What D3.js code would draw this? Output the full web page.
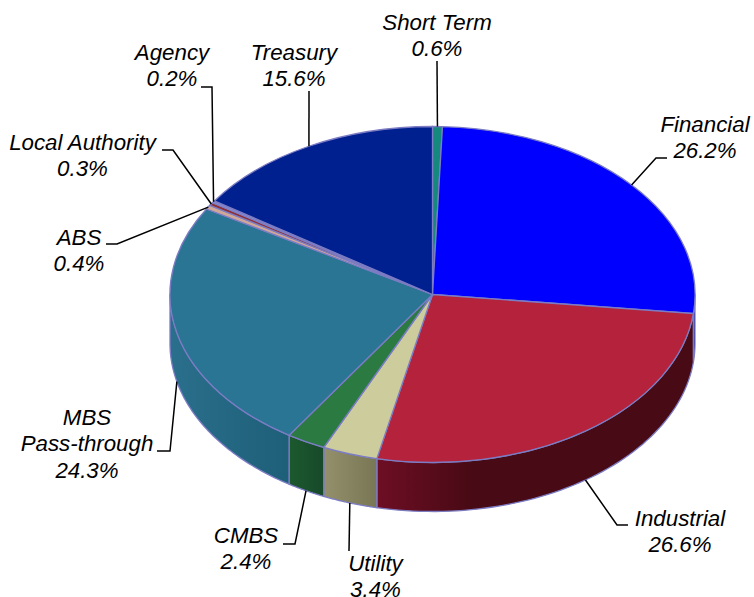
<!DOCTYPE html>
<html lang="en">
<head>
    <meta charset="UTF-8">
    <title>Sector Allocation</title>
    <script src="https://d3js.org/d3.v7.min.js"></script>
    <style>
        html, body { margin: 0; padding: 0; background: #fff; }
        svg { display: block; }
        svg text {
            font-family: "Liberation Sans", Arial, sans-serif;
            font-style: italic;
            font-size: 22.3px;
            fill: #000;
        }
    </style>
</head>
<body>
    <svg id="pie" width="754" height="597"></svg>

    <script>
        const sectors = ["Short Term", "Financial", "Industrial", "Utility", "CMBS", "MBS Pass-through", "ABS", "Local Authority", "Agency", "Treasury"];
        const shares = [0.6, 26.2, 26.6, 3.4, 2.4, 24.3, 0.4, 0.3, 0.2, 15.6];
        const topColors = ["#16897f", "#0000ff", "#b5223c", "#cccc9c", "#2a7a42", "#2a7594", "#d0a898", "#8e3038", "#8a8ad0", "#00208f"];
        const wallLeft = ["#0e5a54", "#00008c", "#6e0e24", "#94906c", "#1c5a2e", "#2a6f8c", "#907060", "#5c2024", "#5c5c90", "#001460"];
        const wallRight = ["#0e5a54", "#00008c", "#480a14", "#787654", "#17492a", "#1e5f78", "#907060", "#5c2024", "#5c5c90", "#001460"];

        // Label layout: text lines, anchor point, then elbow of the leader line
        const labelLines = [["Short Term", "0.6%"], ["Financial", "26.2%"], ["Industrial", "26.6%"], ["Utility", "3.4%"], ["CMBS", "2.4%"], ["MBS", "Pass-through", "24.3%"], ["ABS", "0.4%"], ["Local Authority", "0.3%"], ["Agency", "0.2%"], ["Treasury", "15.6%"]];
        const labelX = [437, 705, 680, 375.5, 246, 87, 79, 82.5, 172, 294];
        const labelY = [30, 132, 526, 571, 543, 425, 245, 150, 60, 60];
        const labelEnds = [[437, 61], [667, 158], [628, 525], [349, 551], [283, 544], [157, 451], [106, 244], [162, 150], [201, 87], [309, 91]];
        const labelElbows = [null, [656, 158], [617, 525], null, [295, 544], [170, 451], [117, 244], [173, 150], [212, 87], null];

        const svg = d3.select("#pie");
        const cx = 432.5, cy = 294.5, rx = 262.5, ry = 168, depth = 49;

        const pie = d3.pie().sort(null).value(d => d);
        const arcs = pie(shares);
        const px = a => cx + rx * Math.sin(a);
        const py = a => cy - ry * Math.cos(a);

        const defs = svg.append("defs");
        const wall = d3.area()
            .x(a => px(a))
            .y0(a => py(a))
            .y1(a => py(a) + depth);

        // Wall segments, only the front half of the ellipse shows
        arcs.forEach((d, i) => {
            const a0 = Math.max(d.startAngle, Math.PI / 2);
            const a1 = Math.min(d.endAngle, Math.PI * 3 / 2);
            if (a1 <= a0) return;
            const grad = defs.append("linearGradient")
                .attr("id", "wall" + i)
                .attr("gradientUnits", "userSpaceOnUse")
                .attr("x1", Math.min(px(a0), px(a1))).attr("x2", Math.max(px(a0), px(a1)))
                .attr("y1", 0).attr("y2", 0);
            grad.append("stop").attr("offset", 0).attr("stop-color", wallLeft[i]);
            grad.append("stop").attr("offset", i === 2 ? 0.3 : 1).attr("stop-color", wallRight[i]);
            svg.append("path")
                .attr("d", wall(d3.range(0, 61).map(k => a0 + (a1 - a0) * k / 60)))
                .attr("fill", `url(#wall${i})`)
                .attr("stroke", "#7c7cc4")
                .attr("stroke-width", 1.3);
        });

        // Top face: a unit arc squashed into the ellipse
        const arc = d3.arc().innerRadius(0).outerRadius(1);
        svg.append("g")
            .attr("transform", `translate(${cx},${cy}) scale(${rx},${ry})`)
            .selectAll("path")
            .data(arcs)
            .join("path")
            .attr("d", arc)
            .attr("fill", (d, i) => topColors[i])
            .attr("stroke", "#7c7cc4")
            .attr("stroke-width", 1.3)
            .attr("vector-effect", "non-scaling-stroke");

        // Leader lines start at the slice's middle angle on the visible rim
        const leader = d3.line();
        arcs.forEach((d, i) => {
            const mid = (d.startAngle + d.endAngle) / 2;
            const front = mid > Math.PI / 2 && mid < Math.PI * 3 / 2;
            const start = [px(mid), py(mid) + (front ? depth : 0)];
            const pts = labelElbows[i] ? [start, labelElbows[i], labelEnds[i]] : [start, labelEnds[i]];
            svg.append("path")
                .attr("d", leader(pts))
                .attr("fill", "none")
                .attr("stroke", "#000")
                .attr("stroke-width", 1.5);
        });

        labelLines.forEach((lines, i) => {
            const t = svg.append("text")
                .attr("x", labelX[i])
                .attr("y", labelY[i])
                .attr("text-anchor", "middle");
            lines.forEach((s, k) => {
                t.append("tspan")
                    .attr("x", labelX[i])
                    .attr("dy", k === 0 ? 0 : 26.4)
                    .text(s);
            });
        });
    </script>
</body>
</html>
